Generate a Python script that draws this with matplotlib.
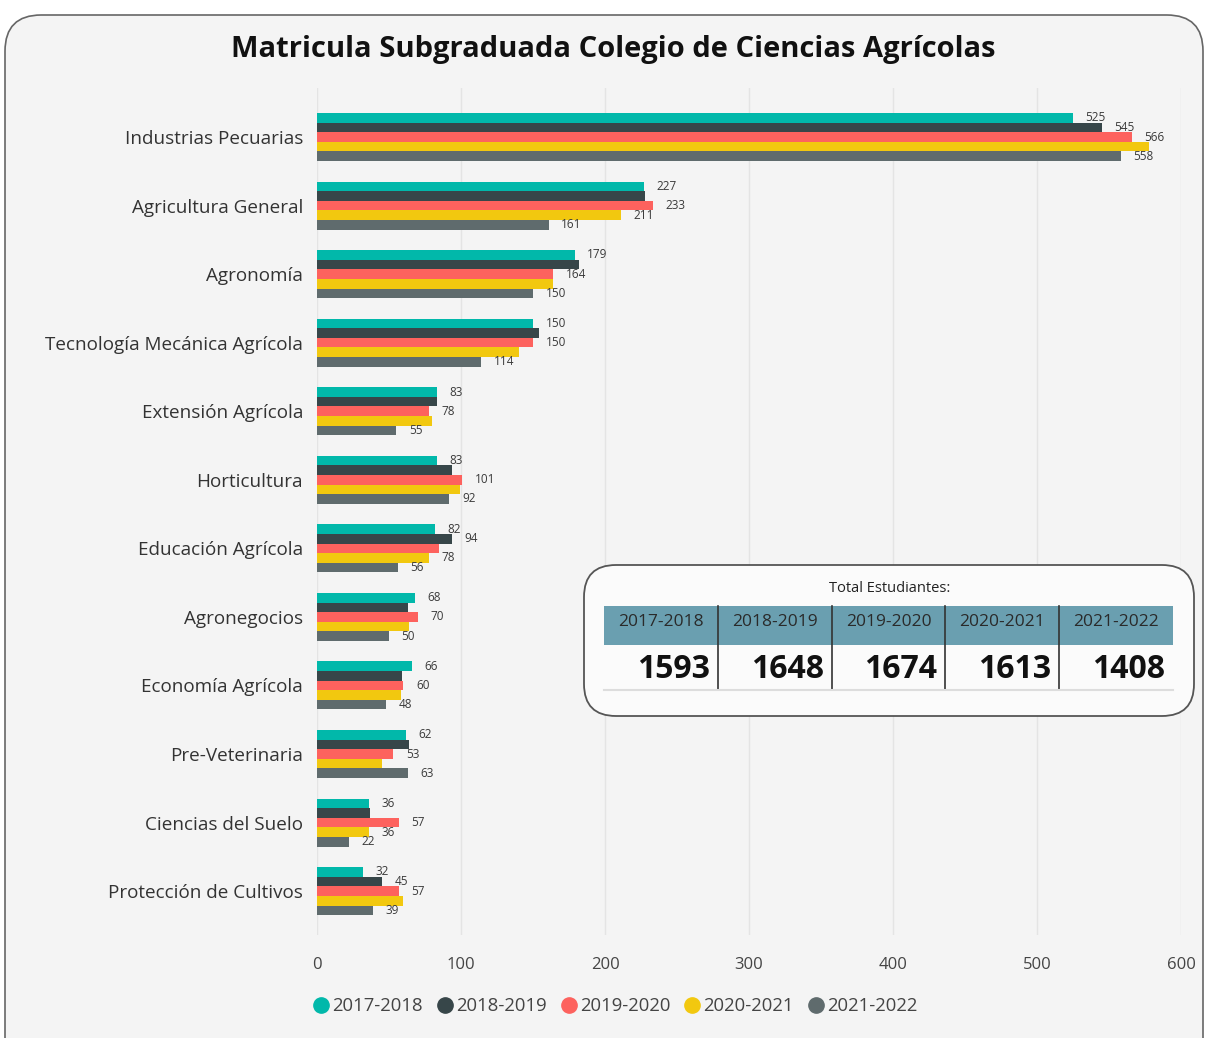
import numpy as np
import matplotlib.pyplot as plt
from matplotlib.patches import FancyBboxPatch, Rectangle
from matplotlib.lines import Line2D

# categorias y matricula por año
programas = ['Industrias Pecuarias', 'Agricultura General', 'Agronomía',
             'Tecnología Mecánica Agrícola', 'Extensión Agrícola', 'Horticultura',
             'Educación Agrícola', 'Agronegocios', 'Economía Agrícola',
             'Pre-Veterinaria', 'Ciencias del Suelo', 'Protección de Cultivos']
anios = ['2017-2018', '2018-2019', '2019-2020', '2020-2021', '2021-2022']

m_2017 = [525, 227, 179, 150, 83, 83, 82, 68, 66, 62, 36, 32]
m_2018 = [545, 228, 182, 154, 83, 94, 94, 63, 59, 64, 37, 45]
m_2019 = [566, 233, 164, 150, 78, 101, 85, 70, 60, 53, 57, 57]
m_2020 = [578, 211, 164, 140, 80, 99, 78, 64, 58, 45, 36, 60]
m_2021 = [558, 161, 150, 114, 55, 92, 56, 50, 48, 63, 22, 39]

# which data labels are visible in the original (one flag per year)
etiquetas = [[1, 1, 1, 0, 1], [1, 0, 1, 1, 1], [1, 0, 1, 0, 1], [1, 0, 1, 0, 1],
             [1, 0, 1, 0, 1], [1, 0, 1, 0, 1], [1, 1, 0, 1, 1], [1, 0, 1, 0, 1],
             [1, 0, 1, 0, 1], [1, 0, 1, 0, 1], [1, 0, 1, 1, 1], [1, 1, 1, 0, 1]]

totales = [1593, 1648, 1674, 1613, 1408]

colores = ['#01B8AA', '#374649', '#FD625E', '#F2C80F', '#5F6B6D']
series = [m_2017, m_2018, m_2019, m_2020, m_2021]

plt.rcParams['font.family'] = ['Open Sans', 'DejaVu Sans']

W, H = 1206, 1038
fig = plt.figure(figsize=(W / 100, H / 100), dpi=100)
fig.patch.set_facecolor('white')

# panel de fondo redondeado
panel = FancyBboxPatch((5 / W, -0.05), (1203 - 5) / W, (H - 15) / H + 0.05,
                       boxstyle='round,pad=0,rounding_size=0.03',
                       transform=fig.transFigure, facecolor='#f4f4f4',
                       edgecolor='#666666', linewidth=1.2, mutation_aspect=W / H,
                       zorder=-10)
fig.patches.append(panel)

fig.text(613 / W, 1 - 49 / H, 'Matricula Subgraduada Colegio de Ciencias Agrícolas',
         ha='center', va='center', fontsize=21, fontweight='bold', color='#111111')

ax = fig.add_axes([317 / W, 1 - 935 / H, (1181 - 317) / W, (935 - 88) / H])
ax.set_facecolor('none')
y = np.arange(len(programas))
h = 0.14
for k in range(5):
    pos = y + (k - 2) * h
    ax.barh(pos, series[k], height=h, color=colores[k], zorder=3)
    for i in range(len(programas)):
        if etiquetas[i][k]:
            ax.annotate(str(series[k][i]), (series[k][i], pos[i]), xytext=(9, 0),
                        textcoords='offset points', va='center', ha='left',
                        fontsize=8.5, color='#3a3a3a', zorder=4)

ax.set_xlim(0, 600)
ax.set_ylim(len(programas) - 1 + 0.64, -0.715)
ax.set_yticks(y)
ax.set_yticklabels(programas, fontsize=13.6, color='#333333')
ax.set_xticks(np.arange(0, 601, 100))
ax.tick_params(axis='x', labelsize=12, labelcolor='#444444', length=0, pad=16)
ax.tick_params(axis='y', length=0, pad=10)
ax.grid(axis='x', color='#e4e4e4', linewidth=1, zorder=0)
for s in ax.spines.values():
    s.set_visible(False)

# leyenda
handles = [Line2D([], [], marker='o', linestyle='none', markersize=11,
                  markerfacecolor=c, markeredgecolor=c) for c in colores]
fig.legend(handles, anios, loc='center', bbox_to_anchor=(610 / W, 1 - 1006 / H),
           ncol=5, frameon=False, fontsize=13.3, handletextpad=-0.4,
           columnspacing=0.2, labelcolor='#444444')

# tabla de totales
tx = fig.add_axes([0, 0, 1, 1], facecolor='none')
tx.set_xlim(0, W)
tx.set_ylim(H, 0)
tx.axis('off')
caja = FancyBboxPatch((584, 565), 1194 - 584, 716 - 565,
                      boxstyle='round,pad=0,rounding_size=32',
                      facecolor='#fbfbfb', edgecolor='#555555', linewidth=1.3)
tx.add_patch(caja)
tx.text(890, 589, 'Total Estudiantes:', ha='center', va='center', fontsize=10.5,
        color='#222222')
bordes = np.linspace(604, 1173, 6)
tx.add_patch(Rectangle((604, 606), 1173 - 604, 39, facecolor='#6a9fb0', edgecolor='none'))
for j in range(5):
    cx = (bordes[j] + bordes[j + 1]) / 2
    tx.text(cx, 622, anios[j], ha='center', va='center', fontsize=12.5, color='#2a2a2a')
    tx.text(bordes[j + 1] - 8, 670, str(totales[j]), ha='right', va='center',
            fontsize=23, fontweight='bold', color='#111111')
for b in bordes[1:-1]:
    tx.plot([b, b], [606, 690], color='#333333', linewidth=1.2)
tx.plot([604, 1173], [690, 690], color='#dddddd', linewidth=1.5)

fig.savefig('out.png', dpi=100, facecolor=fig.get_facecolor())
